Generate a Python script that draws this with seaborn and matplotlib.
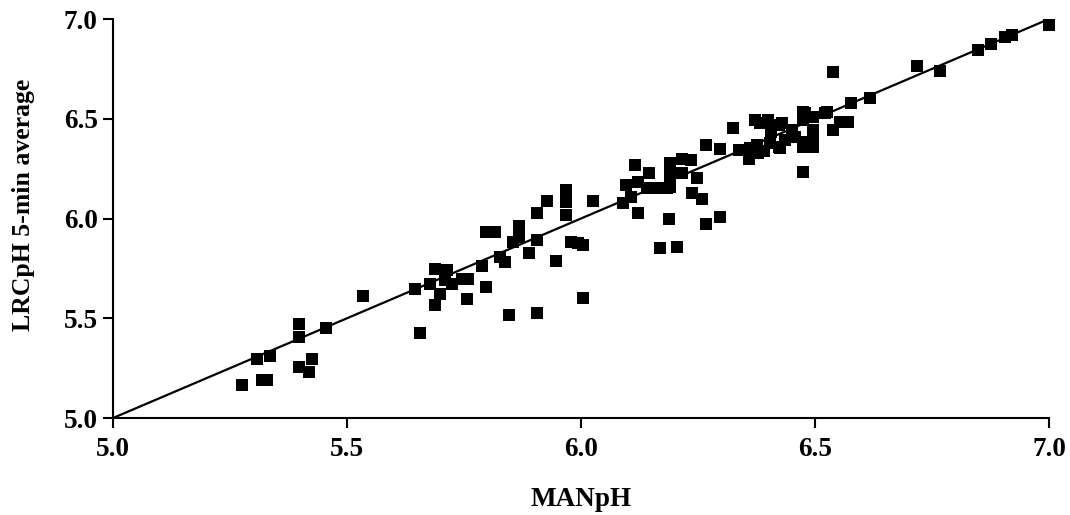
import pandas as pd
import matplotlib.pyplot as plt
import seaborn as sns

# values
man_ph = [
    5.276, 5.307, 5.335, 5.318, 5.328, 5.397, 5.397, 5.455, 5.397, 5.425,
    5.418, 5.534, 5.645, 5.677, 5.699, 5.688, 5.656, 5.724, 5.756, 5.689,
    5.713, 5.709, 5.745, 5.758, 5.788, 5.798, 5.798, 5.816, 5.826, 5.838,
    5.847, 5.855, 5.868, 5.868, 5.889, 5.905, 5.905, 5.905, 5.927, 5.947,
    5.968, 5.968, 5.968, 5.978, 5.993, 6.005, 6.005, 6.026, 6.089, 6.096,
    6.106, 6.122, 6.122, 6.115, 6.146, 6.140, 6.155, 6.169, 6.183, 6.190,
    6.190, 6.190, 6.190, 6.169, 6.189, 6.206, 6.215, 6.215, 6.236, 6.247,
    6.238, 6.259, 6.268, 6.296, 6.268, 6.296, 6.325, 6.338, 6.350, 6.358,
    6.362, 6.371, 6.382, 6.378, 6.375, 6.390, 6.400, 6.407, 6.404, 6.422,
    6.429, 6.436, 6.425, 6.422, 6.450, 6.457, 6.475, 6.475, 6.496, 6.496,
    6.496, 6.496, 6.475, 6.475, 6.475, 6.525, 6.539, 6.539, 6.553, 6.571,
    6.577, 6.618, 6.717, 6.766, 6.849, 6.877, 6.906, 6.920, 6.999, 6.478,
    6.521,
]
lrc_ph = [
    5.165, 5.296, 5.312, 5.190, 5.190, 5.470, 5.408, 5.451, 5.257, 5.296,
    5.232, 5.613, 5.647, 5.672, 5.622, 5.566, 5.428, 5.672, 5.597, 5.745,
    5.742, 5.692, 5.695, 5.695, 5.762, 5.655, 5.934, 5.934, 5.805, 5.783,
    5.516, 5.884, 5.962, 5.909, 5.825, 5.892, 6.026, 5.525, 6.088, 5.787,
    6.143, 6.084, 6.018, 5.884, 5.876, 5.867, 5.600, 6.088, 6.079, 6.168,
    6.106, 6.184, 6.026, 6.268, 6.227, 6.151, 6.151, 6.151, 6.151, 6.160,
    6.277, 6.235, 6.193, 5.851, 5.997, 5.859, 6.300, 6.227, 6.293, 6.201,
    6.129, 6.096, 5.972, 6.006, 6.368, 6.347, 6.452, 6.343, 6.343, 6.300,
    6.355, 6.494, 6.477, 6.327, 6.370, 6.340, 6.494, 6.435, 6.377, 6.469,
    6.477, 6.393, 6.352, 6.360, 6.443, 6.410, 6.535, 6.494, 6.510, 6.443,
    6.393, 6.356, 6.356, 6.235, 6.385, 6.535, 6.736, 6.443, 6.485, 6.485,
    6.578, 6.602, 6.764, 6.739, 6.845, 6.875, 6.911, 6.920, 6.970, 6.527,
    6.527,
]
identity_line = [5.0, 7.0]
ticks = [5.0, 5.5, 6.0, 6.5, 7.0]

df = pd.DataFrame({'MANpH': man_ph, 'LRCpH': lrc_ph})

sns.set_style('ticks')
plt.rcParams['font.family'] = ['Liberation Serif', 'DejaVu Serif']
plt.rcParams['font.weight'] = 'bold'
plt.rcParams['text.color'] = 'black'
plt.rcParams['axes.labelcolor'] = 'black'

fig = plt.figure(figsize=(10.7, 5.15), dpi=100)
ax = fig.add_axes([0.1056, 0.1883, 0.8748, 0.7748])

sns.lineplot(x=identity_line, y=identity_line, color='black', linewidth=1.6, ax=ax)
sns.scatterplot(data=df, x='MANpH', y='LRCpH', marker='s', color='black',
                s=75, linewidth=0, ax=ax, zorder=3, clip_on=False)

ax.set_xlim(5.0, 7.0)
ax.set_ylim(5.0, 7.0)
ax.set_xticks(ticks)
ax.set_yticks(ticks)
ax.set_xticklabels([f'{t:.1f}' for t in ticks], fontsize=19.5, fontweight='bold')
ax.set_yticklabels([f'{t:.1f}' for t in ticks], fontsize=19.5, fontweight='bold')
ax.tick_params(direction='out', length=7, width=1.5, colors='black',
               labelcolor='black')
ax.tick_params(axis='x', pad=7)
ax.tick_params(axis='y', pad=4)
ax.set_xlabel('MANpH', fontsize=19.5, fontweight='bold', labelpad=18)
ax.set_ylabel('LRCpH 5-min average', fontsize=18.5, fontweight='bold')
ax.yaxis.set_label_coords(-0.083, 0.534)
sns.despine(ax=ax)
for side in ['left', 'bottom']:
    ax.spines[side].set_linewidth(1.5)
    ax.spines[side].set_color('black')

fig.savefig('out.png', dpi=100)
